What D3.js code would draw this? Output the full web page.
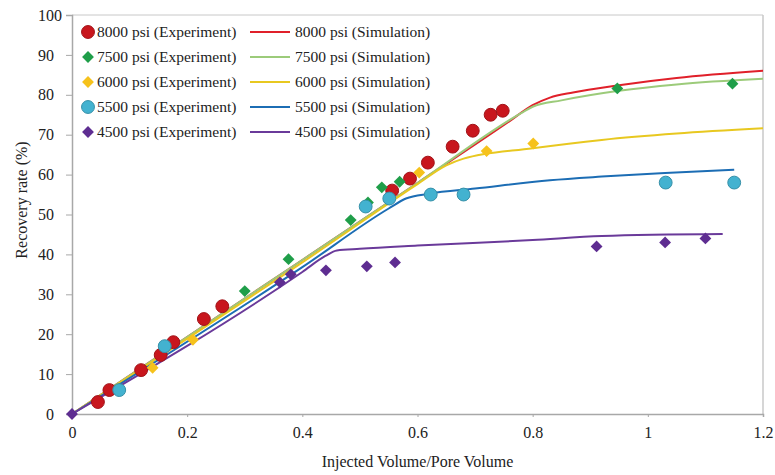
<!DOCTYPE html>
<html>
<head>
<meta charset="utf-8">
<script src="https://cdn.jsdelivr.net/npm/d3@7"></script>
<style>
  body { margin: 0; background: #fff; }
  svg text { font-family: "Liberation Serif", "Times New Roman", serif; fill: #222; }
</style>
</head>
<body>
<svg id="chart"></svg>
<script>
const width = 775;
const height = 475;
const margin = { top: 15, right: 12, bottom: 61, left: 72 };

// experiment points [injected PV, recovery %]
const exp8000 = [[0.045, 3], [0.065, 6], [0.12, 11], [0.154, 14.8], [0.176, 18], [0.229, 23.8], [0.261, 27],
  [0.556, 56], [0.587, 59], [0.618, 63], [0.661, 67], [0.696, 71], [0.727, 75], [0.748, 76]];
const exp7500 = [[0.30, 30.8], [0.376, 38.8], [0.484, 48.6], [0.514, 53], [0.538, 56.8], [0.569, 58.2],
  [0.947, 81.6], [1.147, 82.8]];
const exp6000 = [[0.14, 11.6], [0.21, 18.6], [0.603, 60.5], [0.72, 65.9], [0.801, 67.8]];
const exp5500 = [[0.082, 6], [0.161, 17], [0.51, 52], [0.551, 54], [0.623, 55], [0.68, 55], [1.031, 58], [1.15, 58]];
const exp4500 = [[0, 0], [0.361, 33], [0.38, 35], [0.441, 36], [0.512, 37], [0.561, 38], [0.911, 42], [1.03, 43], [1.10, 44]];

// simulation curves
const sim8000 = [[0, 0], [0.4, 38.6], [0.6, 57.9], [0.76, 73.4], [0.8, 77.4], [0.83, 79.3], [0.87, 80.6], [0.95, 82.4], [1.05, 84.2], [1.2, 86]];
const sim7500 = [[0, 0], [0.4, 38.6], [0.6, 57.9], [0.78, 75.4], [0.8, 77], [0.85, 78.6], [0.95, 81], [1.05, 82.6], [1.2, 84]];
const sim6000 = [[0, 0], [0.4, 38], [0.6, 57.6], [0.65, 62.3], [0.68, 64], [0.8, 66.6], [0.92, 68.7], [1.05, 70.3], [1.2, 71.6]];
const sim5500 = [[0, 0], [0.4, 36.8], [0.55, 51.5], [0.58, 54], [0.62, 55.2], [0.7, 56.5], [0.83, 58.6], [0.92, 59.5], [1.03, 60.4], [1.15, 61.2]];
const sim4500 = [[0, 0], [0.4, 35.6], [0.44, 39.6], [0.46, 41], [0.5, 41.4], [0.6, 42.2], [0.8, 43.6], [0.92, 44.6], [1.13, 45.1]];

const xTicks = [0, 0.2, 0.4, 0.6, 0.8, 1, 1.2];
const yTicks = [0, 10, 20, 30, 40, 50, 60, 70, 80, 90, 100];

const series = [
  { name: "8000 psi", exp: exp8000, sim: sim8000, shape: "circle", fill: "#c8161d", line: "#e0202a" },
  { name: "7500 psi", exp: exp7500, sim: sim7500, shape: "diamond", fill: "#1f9e49", line: "#9ccb7a" },
  { name: "6000 psi", exp: exp6000, sim: sim6000, shape: "diamond", fill: "#f6c21c", line: "#e8c820" },
  { name: "5500 psi", exp: exp5500, sim: sim5500, shape: "circle", fill: "#43b2d0", line: "#1c6db4" },
  { name: "4500 psi", exp: exp4500, sim: sim4500, shape: "diamond", fill: "#5e2d91", line: "#6a3a9a" }
];

const svg = d3.select("#chart")
  .attr("width", width)
  .attr("height", height);

const x = d3.scaleLinear().domain([0, 1.2]).range([margin.left, width - margin.right]);
const y = d3.scaleLinear().domain([0, 100]).range([height - margin.bottom, margin.top]);

// frame
svg.append("line")
  .attr("x1", x(0)).attr("x2", x(1.2)).attr("y1", y(100)).attr("y2", y(100))
  .attr("stroke", "#c8c8c8");
svg.append("line")
  .attr("x1", x(1.2)).attr("x2", x(1.2)).attr("y1", y(100)).attr("y2", y(0))
  .attr("stroke", "#c8c8c8").attr("stroke-width", 1.5);

const xAxis = svg.append("g")
  .attr("transform", `translate(0, ${y(0)})`)
  .call(d3.axisBottom(x).tickValues(xTicks).tickFormat(d3.format("")).tickSize(3).tickPadding(10));

const yAxis = svg.append("g")
  .attr("transform", `translate(${x(0)}, 0)`)
  .call(d3.axisLeft(y).tickValues(yTicks).tickSize(6).tickPadding(12));

[xAxis, yAxis].forEach(g => {
  g.select(".domain").attr("stroke", "#a8a8a8").attr("stroke-width", 1.5);
  g.selectAll(".tick line").attr("stroke", "#a8a8a8");
  g.selectAll(".tick text").style("font-size", "16px").attr("fill", "#222");
});
yAxis.selectAll(".tick text").filter(d => d === 100).attr("dx", 8);

svg.append("text")
  .attr("x", (x(0) + x(1.2)) / 2)
  .attr("y", 467)
  .attr("text-anchor", "middle")
  .style("font-size", "16px")
  .text("Injected Volume/Pore Volume");

svg.append("text")
  .attr("transform", `translate(27, 200) rotate(-90)`)
  .attr("text-anchor", "middle")
  .style("font-size", "16px")
  .text("Recovery rate (%)");

const line = d3.line().x(d => x(d[0])).y(d => y(d[1])).curve(d3.curveMonotoneX);

series.forEach(s => {
  svg.append("path")
    .datum(s.sim)
    .attr("fill", "none")
    .attr("stroke", s.line)
    .attr("stroke-width", 2)
    .attr("d", line);
});

const circle = d3.symbol().type(d3.symbolCircle).size(130);
const diamond = d3.symbol().type(d3.symbolSquare).size(70);

function drawMarker(g, s, px, py) {
  if (s.shape === "circle") {
    g.append("path")
      .attr("d", circle())
      .attr("transform", `translate(${px}, ${py})`)
      .attr("fill", s.fill)
      .attr("stroke", d3.color(s.fill).darker(0.6))
      .attr("stroke-width", 1);
  } else {
    g.append("path")
      .attr("d", diamond())
      .attr("transform", `translate(${px}, ${py}) rotate(45)`)
      .attr("fill", s.fill);
  }
}

const pts = svg.append("g");
series.forEach(s => {
  s.exp.forEach(d => drawMarker(pts, s, x(d[0]), y(d[1])));
});

// legend
const legend = svg.append("g");
series.forEach((s, i) => {
  const ly = 32 + i * 25;
  drawMarker(legend, s, 88, ly);
  legend.append("text")
    .attr("x", 97).attr("y", ly + 5)
    .style("font-size", "15.5px")
    .text(`${s.name} (Experiment)`);
  legend.append("line")
    .attr("x1", 250).attr("x2", 290).attr("y1", ly).attr("y2", ly)
    .attr("stroke", s.line).attr("stroke-width", 2);
  legend.append("text")
    .attr("x", 295).attr("y", ly + 5)
    .style("font-size", "15.5px")
    .text(`${s.name} (Simulation)`);
});
</script>
</body>
</html>
